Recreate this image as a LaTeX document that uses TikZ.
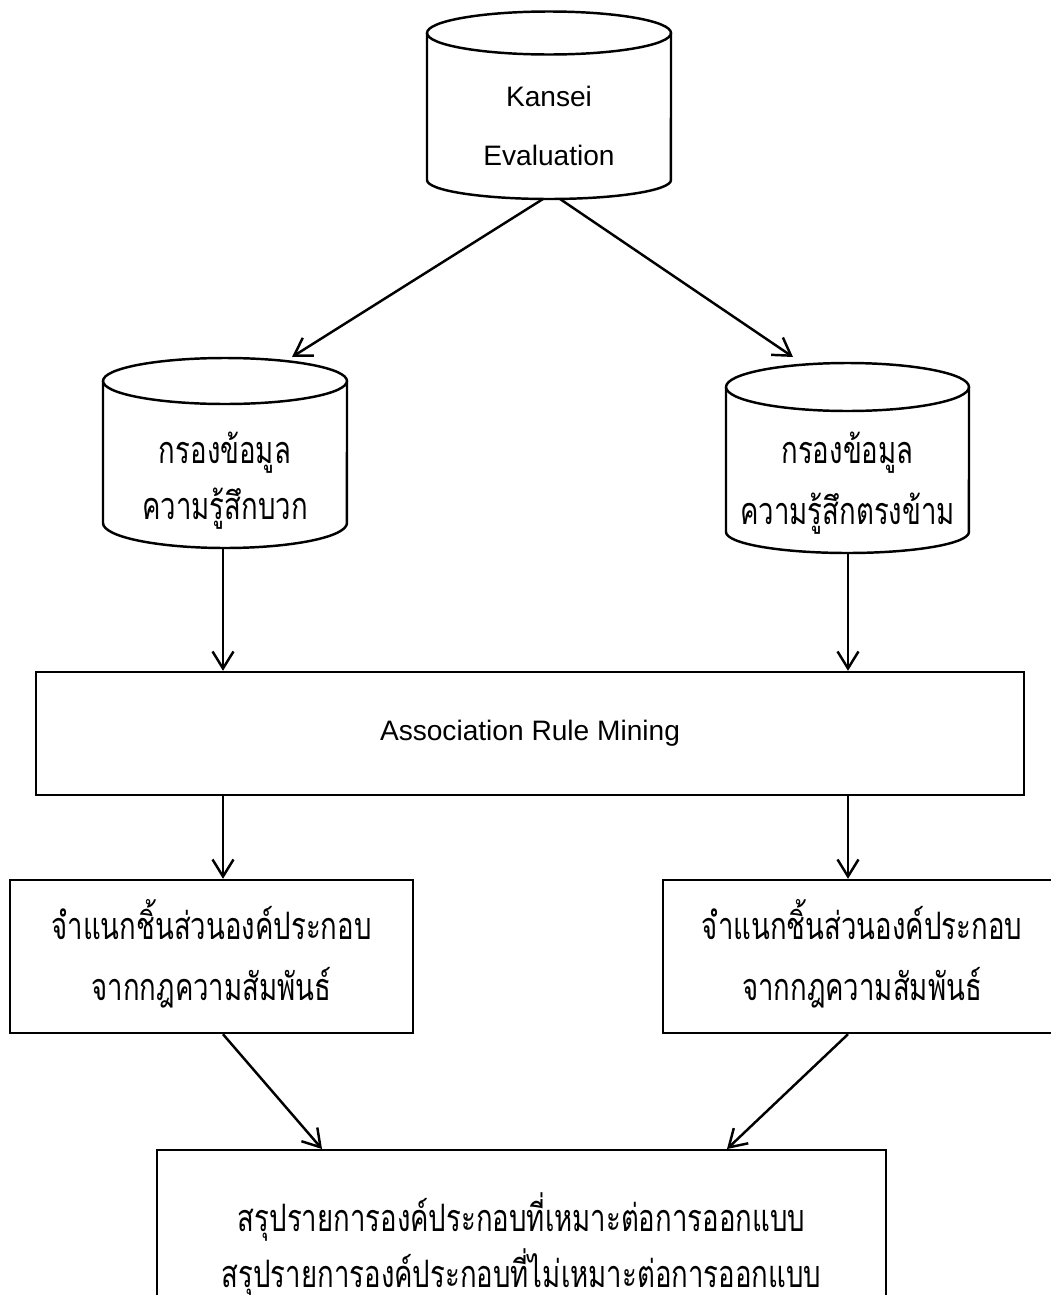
\documentclass[tikz,border=0pt]{standalone}
\usepackage{fontspec}
\setmainfont{Liberation Sans}
\newfontfamily\thaifont[Script=Thai,FakeStretch=0.73]{Loma}
\usetikzlibrary{arrows.meta}
\begin{document}
\begin{tikzpicture}[x=0.02cm,y=-0.02cm,
  line width=1.4pt,
  arr/.style={-{Straight Barb[length=0.34cm,width=0.42cm,line width=1.4pt]}},
  boxn/.style={draw,rectangle,inner sep=0pt},
  latintxt/.style={font=\fontsize{16}{34}\selectfont,align=center},
  thaitxt/.style={font=\thaifont\fontsize{21.5}{32}\selectfont,align=center},
  thaiwide/.style={font=\thaifont\fontsize{21.5}{34.5}\selectfont,align=center}]
\useasboundingbox (0,0) rectangle (1051,1295);
\clip (0,0) rectangle (1051,1295);
% top cylinder
\draw (549,33) ellipse [x radius=2.44cm, y radius=0.43cm];
\draw (427,33) -- (427,180) arc [start angle=180,end angle=360,x radius=2.44cm,y radius=0.38cm] -- (671,33);
\coordinate (kb1) at (543,199);
\coordinate (kb2) at (560,199);
\node[latintxt] (kt) at (549,126) {Kansei\\Evaluation};
% left cylinder
\draw (225,381) ellipse [x radius=2.44cm, y radius=0.46cm];
\draw (103,381) -- (103,523) arc [start angle=180,end angle=360,x radius=2.44cm,y radius=0.5cm] -- (347,381);
\coordinate (lt) at (292,357);
\coordinate (lb) at (223,548);
\node[thaitxt] (ltx) at (225,481) {กรองข้อมูล\\ความรู้สึกบวก};
% right cylinder
\draw (847.5,387) ellipse [x radius=2.43cm, y radius=0.48cm];
\draw (726,387) -- (726,532) arc [start angle=180,end angle=360,x radius=2.43cm,y radius=0.42cm] -- (969,387);
\coordinate (rt) at (793,357);
\coordinate (rb) at (848,553);
\node[thaiwide] (rtx) at (847.5,483) {กรองข้อมูล\\ความรู้สึกตรงข้าม};
% boxes
\node[boxn,minimum width=19.76cm,minimum height=2.46cm,latintxt] (arm) at (530,733.5) {Association Rule Mining};
\node[boxn,minimum width=8.06cm,minimum height=3.06cm] (lbox) at (211.5,956.5) {};
\node[thaiwide] (lboxt) at (211.5,954) {จำแนกชิ้นส่วนองค์ประกอบ\\จากกฎความสัมพันธ์};
\node[boxn,minimum width=8.06cm,minimum height=3.06cm] (rbox) at (864.5,956.5) {};
\node[thaiwide] (rboxt) at (862,954) {จำแนกชิ้นส่วนองค์ประกอบ\\จากกฎความสัมพันธ์};
\node[boxn,minimum width=14.58cm,minimum height=3.84cm] (sum) at (521.5,1246) {};
\node[thaitxt] (sumt) at (521.5,1245) {สรุปรายการองค์ประกอบที่เหมาะต่อการออกแบบ\\สรุปรายการองค์ประกอบที่ไม่เหมาะต่อการออกแบบ};
% arrows
\draw[arr] (kb1) -- (lt);
\draw[arr] (kb2) -- (rt);
\draw[arr] (lb) -- (arm.north -| lb);
\draw[arr] (rb) -- (arm.north -| rb);
\draw[arr] (arm.south -| lb) -- (lbox.north -| lb);
\draw[arr] (arm.south -| rb) -- (rbox.north -| rb);
\coordinate (sl) at (322,1149);
\coordinate (sr) at (727,1149);
\draw[arr] (lbox.south -| lb) -- (sl);
\draw[arr] (rbox.south -| rb) -- (sr);
\end{tikzpicture}
\end{document}
